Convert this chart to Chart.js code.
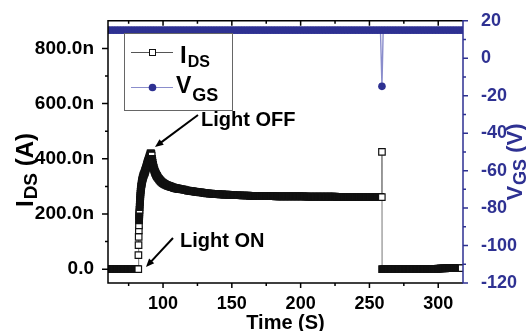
<!DOCTYPE html>
<html>
<head>
<meta charset="utf-8">
<script src="https://cdn.jsdelivr.net/npm/chart.js@4.4.0/dist/chart.umd.min.js"></script>
<style>
  html, body { margin: 0; padding: 0; background: #fff; }
  #wrap { width: 526px; height: 331px; }
</style>
</head>
<body>
<div id="wrap"><canvas id="chart" width="526" height="331"></canvas></div>
<script>
// I_DS in nA, before the light is switched on
const darkTime = [60, 61, 62, 63, 64, 65, 66, 67, 68, 69, 70, 71, 72, 73, 74, 75, 76, 77, 78, 79, 80, 81];
const darkIds = [0, 0, 0, 0, 0, 0, 0, 0, 0, 0, 0, 0, 0, 0, 0, 0, 0, 0, 0, 0, 0, 0];

// rise while the light is on
const riseTime = [82, 82.1, 82.2, 82.3, 82.4, 82.5, 82.6, 82.65, 82.7, 82.75,
  82.8, 82.9, 83, 83.1, 83.2, 83.3, 83.4, 83.5, 83.6, 83.7,
  83.8, 83.95, 84.1, 84.25, 84.4, 84.55, 84.7, 84.85, 85, 85.2,
  85.4, 85.65, 85.9, 86.2, 86.5, 86.75, 87, 87.25, 87.5, 87.75,
  88, 88.25, 88.5, 88.75, 89, 89.25, 89.5, 89.75, 90, 90.25,
  90.5, 90.75, 91, 91.25, 91.5];
const riseIds = [0, 51, 87, 117, 141, 159, 177, 185, 192, 199,
  206, 215, 225, 234, 243, 251, 259, 266, 273, 280,
  286, 292, 298, 303, 308, 313, 317, 321, 325, 329,
  333, 337, 341, 345, 348, 352, 356, 360, 364, 368,
  372, 377, 381, 385, 389, 393, 396, 400, 404, 408,
  412, 416, 420, 420, 418];

// fast decay right after the light is switched off
const fallTime = [91.75, 92, 92.25, 92.5, 92.75, 93, 93.25, 93.5, 93.75, 94,
  94.25, 94.5, 94.75, 95, 95.25, 95.5, 95.75, 96, 96.5, 97,
  97.5, 98, 98.5, 99, 99.5, 100, 100.5, 101, 101.5, 102,
  102.5, 103, 103.5, 104, 104.5, 105, 105.5, 106, 106.5, 107,
  107.5, 108, 108.5, 109, 109.5, 110, 110.5, 111, 111.5];
const fallIds = [412, 400, 392, 385, 378, 372, 367, 362, 358, 354,
  351, 348, 345, 343, 340, 338, 336, 334, 330, 327,
  324, 321, 318, 316, 314, 312, 310, 309, 307, 306,
  305, 304, 303, 302, 301, 300, 299, 298, 297, 297,
  296, 295, 294, 294, 293, 293, 292, 292, 291];

// slow decay towards the plateau
const decayTime = [112, 113, 114, 115, 116, 117, 118, 119, 120, 121,
  122, 123, 124, 125, 126, 127, 128, 129, 130, 131,
  132, 133, 134, 135, 136, 137, 138, 139, 140, 141,
  142, 143, 144, 145, 146, 147, 148, 149, 150, 151,
  152, 153, 154, 155, 156, 157, 158, 159, 160, 161,
  162, 163, 164, 165, 166, 167, 168, 169, 170, 171,
  172, 173, 174, 175, 176, 177, 178, 179, 180, 181,
  182, 183, 184, 185, 186, 187, 188, 189, 190, 191,
  192, 193, 194, 195, 196, 197, 198, 199, 200, 201,
  202, 203, 204, 205, 206, 207, 208, 209, 210, 211,
  212, 213, 214, 215, 216, 217, 218, 219, 220, 221,
  222, 223, 224, 225, 226, 227, 228, 229, 230, 231,
  232, 233, 234, 235, 236, 237, 238, 239, 240, 241,
  242, 243, 244, 245, 246, 247, 248, 249, 250, 251,
  252, 253, 254, 255, 256, 257, 258];
const decayIds = [291, 290, 289, 288, 287, 286, 285, 284, 283, 283,
  282, 281, 280, 280, 279, 278, 278, 277, 276, 276,
  275, 275, 274, 274, 273, 273, 272, 272, 272, 271,
  271, 271, 270, 270, 270, 270, 269, 269, 269, 269,
  268, 268, 268, 268, 268, 267, 267, 267, 267, 267,
  267, 266, 266, 266, 266, 266, 266, 266, 266, 265,
  265, 265, 265, 265, 265, 265, 265, 265, 265, 265,
  264, 264, 264, 264, 264, 264, 264, 264, 264, 264,
  264, 264, 264, 264, 264, 264, 264, 264, 264, 264,
  264, 264, 263, 263, 263, 263, 263, 263, 263, 263,
  263, 263, 263, 263, 263, 263, 263, 263, 263, 263,
  263, 263, 263, 263, 262, 262, 262, 262, 262, 262,
  262, 262, 262, 262, 262, 262, 262, 262, 262, 262,
  262, 262, 262, 262, 262, 262, 262, 262, 262, 262,
  262, 262, 262, 262, 262, 262, 262];

// gate pulse and what follows it
const offTime = [259, 259.1, 259.2, 260, 261, 262, 263, 264, 265, 266, 267, 268, 269,
  270, 271, 272, 273, 274, 275, 276, 277, 278, 279,
  280, 281, 282, 283, 284, 285, 286, 287, 288, 289,
  290, 291, 292, 293, 294, 295, 296, 297, 298, 299,
  300, 301, 302, 303, 304, 305, 306, 307, 308, 309,
  310, 311, 312, 313, 314, 315, 316, 317];
const offIds = [261, 425, 0, 0, 0, 0, 0, 0, 0, 0, 0, 0, 0,
  0, 0, 0, 0, 0, 0, 0, 0, 0, 0,
  0, 0, 0, 0, 0, 0, 0, 0, 0, 0,
  0, 0, 0, 0, 0, 0, 0, 0, 0, 0,
  2, 2, 3, 3, 3, 3, 4, 4, 4, 4,
  4, 4, 4, 4, 4, 4, 4, 4];

// V_GS in volts
const vgsTime = [60, 62, 64, 66, 68, 70, 72, 74, 76, 78,
  80, 82, 84, 86, 88, 90, 92, 94, 96, 98,
  100, 102, 104, 106, 108, 110, 112, 114, 116, 118,
  120, 122, 124, 126, 128, 130, 132, 134, 136, 138,
  140, 142, 144, 146, 148, 150, 152, 154, 156, 158,
  160, 162, 164, 166, 168, 170, 172, 174, 176, 178,
  180, 182, 184, 186, 188, 190, 192, 194, 196, 198,
  200, 202, 204, 206, 208, 210, 212, 214, 216, 218,
  220, 222, 224, 226, 228, 230, 232, 234, 236, 238,
  240, 242, 244, 246, 248, 250, 252, 254, 256, 258,
  259.1,
  260, 262, 264, 266, 268, 270, 272, 274, 276, 278,
  280, 282, 284, 286, 288, 290, 292, 294, 296, 298,
  300, 302, 304, 306, 308, 310, 312, 314, 316, 318];
const vgsValue = [15, 15, 15, 15, 15, 15, 15, 15, 15, 15,
  15, 15, 15, 15, 15, 15, 15, 15, 15, 15,
  15, 15, 15, 15, 15, 15, 15, 15, 15, 15,
  15, 15, 15, 15, 15, 15, 15, 15, 15, 15,
  15, 15, 15, 15, 15, 15, 15, 15, 15, 15,
  15, 15, 15, 15, 15, 15, 15, 15, 15, 15,
  15, 15, 15, 15, 15, 15, 15, 15, 15, 15,
  15, 15, 15, 15, 15, 15, 15, 15, 15, 15,
  15, 15, 15, 15, 15, 15, 15, 15, 15, 15,
  15, 15, 15, 15, 15, 15, 15, 15, 15, 15,
  -15,
  15, 15, 15, 15, 15, 15, 15, 15, 15, 15,
  15, 15, 15, 15, 15, 15, 15, 15, 15, 15,
  15, 15, 15, 15, 15, 15, 15, 15, 15, 15];

// axis ticks
const timeTicks = [100, 150, 200, 250, 300];
const timeMinor = [75, 125, 175, 225, 275];
const idsTicks = [0, 200, 400, 600, 800];
const idsMinor = [100, 300, 500, 700];
const vgsTicks = [-120, -100, -80, -60, -40, -20, 0, 20];
const vgsMinor = [-110, -90, -70, -50, -30, -10, 10];

const BLUE = '#2e3192';
const FONT = '"Liberation Sans", Arial, sans-serif';

const idsTime = darkTime.concat(riseTime, fallTime, decayTime, offTime);
const idsValue = darkIds.concat(riseIds, fallIds, decayIds, offIds);

function toPoints(xs, ys) {
  return xs.map((x, i) => ({ x: x, y: ys[i] }));
}

// hollow squares that sit on top of one another merge into a solid black trace
function squareFill(c) {
  if (c.type !== 'data') return '#fff';
  const d = c.dataset.data, i = c.dataIndex;
  if (i >= d.length - 1) return '#fff';
  const sx = c.chart.scales.x, sy = c.chart.scales.y;
  const dx = sx.getPixelForValue(d[i + 1].x) - sx.getPixelForValue(d[i].x);
  const dy = sy.getPixelForValue(d[i + 1].y) - sy.getPixelForValue(d[i].y);
  return Math.hypot(dx, dy) < 2.6 ? '#111' : '#fff';
}

// text with a subscript, left aligned at (x, y) baseline
function subText(ctx, x, y, main, sub, rest, big, small, drop) {
  ctx.textAlign = 'left';
  ctx.textBaseline = 'alphabetic';
  ctx.font = 'bold ' + big + 'px ' + FONT;
  ctx.fillText(main, x, y);
  x += ctx.measureText(main).width + 1;
  ctx.font = 'bold ' + small + 'px ' + FONT;
  ctx.fillText(sub, x, y + drop);
  x += ctx.measureText(sub).width;
  if (rest) {
    ctx.font = 'bold ' + big + 'px ' + FONT;
    ctx.fillText(rest, x, y);
  }
}

function subWidth(ctx, main, sub, rest, big, small) {
  ctx.font = 'bold ' + big + 'px ' + FONT;
  let w = ctx.measureText(main).width + 1 + (rest ? ctx.measureText(rest).width : 0);
  ctx.font = 'bold ' + small + 'px ' + FONT;
  return w + ctx.measureText(sub).width;
}

function arrow(ctx, x1, y1, x2, y2) {
  const ang = Math.atan2(y2 - y1, x2 - x1);
  const len = 9;
  ctx.beginPath();
  ctx.moveTo(x1, y1);
  ctx.lineTo(x2 - Math.cos(ang) * 6, y2 - Math.sin(ang) * 6);
  ctx.lineWidth = 2;
  ctx.stroke();
  ctx.beginPath();
  ctx.moveTo(x2, y2);
  ctx.lineTo(x2 - len * Math.cos(ang - 0.4), y2 - len * Math.sin(ang - 0.4));
  ctx.lineTo(x2 - len * Math.cos(ang + 0.4), y2 - len * Math.sin(ang + 0.4));
  ctx.closePath();
  ctx.fill();
}

const decorations = {
  id: 'decorations',
  afterDraw(chart) {
    const ctx = chart.ctx;
    const a = chart.chartArea;
    const sx = chart.scales.x, sy = chart.scales.y, sv = chart.scales.y2;
    ctx.save();

    // tick marks
    ctx.strokeStyle = '#000';
    ctx.lineWidth = 1.5;
    ctx.beginPath();
    timeTicks.forEach(v => {
      const p = sx.getPixelForValue(v);
      ctx.moveTo(p, a.bottom); ctx.lineTo(p, a.bottom + 5);
      ctx.moveTo(p, a.top); ctx.lineTo(p, a.top + 5);
    });
    timeMinor.forEach(v => {
      const p = sx.getPixelForValue(v);
      ctx.moveTo(p, a.bottom); ctx.lineTo(p, a.bottom + 3);
      ctx.moveTo(p, a.top); ctx.lineTo(p, a.top + 3);
    });
    idsTicks.forEach(v => {
      const p = sy.getPixelForValue(v);
      ctx.moveTo(a.left, p); ctx.lineTo(a.left - 6, p);
    });
    idsMinor.forEach(v => {
      const p = sy.getPixelForValue(v);
      ctx.moveTo(a.left, p); ctx.lineTo(a.left - 3, p);
    });
    ctx.moveTo(a.right, a.top); ctx.lineTo(a.left, a.top);
    ctx.lineTo(a.left, a.bottom); ctx.lineTo(a.right, a.bottom);
    ctx.stroke();

    ctx.strokeStyle = BLUE;
    ctx.beginPath();
    vgsTicks.forEach(v => {
      const p = sv.getPixelForValue(v);
      ctx.moveTo(a.right, p); ctx.lineTo(a.right + 5, p);
    });
    vgsMinor.forEach(v => {
      const p = sv.getPixelForValue(v);
      ctx.moveTo(a.right, p); ctx.lineTo(a.right + 3, p);
    });
    ctx.moveTo(a.right, a.top - 0.75); ctx.lineTo(a.right, a.bottom + 0.75);
    ctx.stroke();

    // axis titles
    ctx.fillStyle = '#000';
    ctx.font = 'bold 20px ' + FONT;
    ctx.textAlign = 'center';
    ctx.textBaseline = 'alphabetic';
    ctx.fillText('Time (S)', (a.left + a.right) / 2, 329);

    let w = subWidth(ctx, 'I', 'DS', ' (A)', 24, 19);
    ctx.save();
    ctx.translate(33, 170);
    ctx.rotate(-Math.PI / 2);
    subText(ctx, -w / 2, 0, 'I', 'DS', ' (A)', 24, 19, 4);
    ctx.restore();

    ctx.fillStyle = BLUE;
    w = subWidth(ctx, 'V', 'GS', ' (V)', 22, 18);
    ctx.save();
    ctx.translate(522, 162);
    ctx.rotate(-Math.PI / 2);
    subText(ctx, -w / 2, 0, 'V', 'GS', ' (V)', 22, 18, 4);
    ctx.restore();

    // legend
    ctx.strokeStyle = '#666';
    ctx.lineWidth = 1;
    ctx.strokeRect(124.5, 33.5, 108, 77);
    ctx.strokeStyle = '#555';
    ctx.beginPath();
    ctx.moveTo(131, 52.5); ctx.lineTo(173, 52.5);
    ctx.stroke();
    ctx.fillStyle = '#fff';
    ctx.fillRect(149.5, 49.5, 6, 6);
    ctx.strokeStyle = '#111';
    ctx.strokeRect(149.5, 49.5, 6, 6);
    ctx.strokeStyle = '#8a8dcc';
    ctx.beginPath();
    ctx.moveTo(131, 87.5); ctx.lineTo(173, 87.5);
    ctx.stroke();
    ctx.fillStyle = BLUE;
    ctx.beginPath();
    ctx.arc(152.5, 87.5, 3.8, 0, Math.PI * 2);
    ctx.fill();
    ctx.fillStyle = '#000';
    subText(ctx, 180, 63, 'I', 'DS', '', 24, 16, 4);
    subText(ctx, 176, 93, 'V', 'GS', '', 23, 18, 8);

    // annotations
    ctx.fillStyle = '#000';
    ctx.strokeStyle = '#000';
    ctx.font = 'bold 20px ' + FONT;
    ctx.textAlign = 'left';
    ctx.fillText('Light OFF', 201, 126);
    ctx.fillText('Light ON', 180, 247);
    arrow(ctx, 198, 115, 155, 147);
    arrow(ctx, 173, 238, 146, 267);

    ctx.restore();
  }
};

const ctx = document.getElementById('chart').getContext('2d');
new Chart(ctx, {
  type: 'line',
  data: {
    datasets: [
      {
        label: 'IDS',
        data: toPoints(idsTime, idsValue),
        yAxisID: 'y',
        borderColor: '#777',
        borderWidth: 1,
        pointStyle: 'rect',
        pointRadius: 4.6,
        pointBackgroundColor: squareFill,
        pointBorderColor: '#111',
        pointBorderWidth: 1.2,
        tension: 0
      },
      {
        label: 'VGS',
        data: toPoints(vgsTime, vgsValue),
        yAxisID: 'y2',
        borderColor: '#8a8dcc',
        borderWidth: 1.4,
        pointStyle: 'circle',
        pointRadius: 3.8,
        pointBackgroundColor: BLUE,
        pointBorderColor: BLUE,
        pointBorderWidth: 0,
        tension: 0
      }
    ]
  },
  options: {
    responsive: false,
    animation: false,
    events: [],
    layout: { padding: { top: 20, left: 0, right: 0, bottom: 0 } },
    plugins: { legend: { display: false }, tooltip: { enabled: false } },
    scales: {
      x: {
        type: 'linear',
        position: 'bottom',
        min: 60,
        max: 318,
        afterBuildTicks: s => { s.ticks = timeTicks.map(v => ({ value: v })); },
        afterFit: s => { s.height = 48; },
        grid: { display: false },
        border: { display: false },
        ticks: {
          color: '#000',
          padding: 2,
          maxRotation: 0,
          font: { family: FONT, size: 18, weight: 'bold' }
        }
      },
      y: {
        type: 'linear',
        position: 'left',
        min: -50,
        max: 900,
        afterBuildTicks: s => { s.ticks = idsTicks.map(v => ({ value: v })); },
        afterFit: s => { s.width = 108; },
        grid: { display: false },
        border: { display: false },
        ticks: {
          color: '#000',
          padding: 6,
          font: { family: FONT, size: 19, weight: 'bold' },
          callback: v => v === 0 ? '0.0' : v.toFixed(1) + 'n'
        }
      },
      y2: {
        type: 'linear',
        position: 'right',
        min: -120,
        max: 20,
        afterBuildTicks: s => { s.ticks = vgsTicks.map(v => ({ value: v })); },
        afterFit: s => { s.width = 63; },
        grid: { display: false },
        border: { display: false },
        ticks: {
          color: BLUE,
          padding: 10,
          font: { family: FONT, size: 18, weight: 'bold' }
        }
      }
    }
  },
  plugins: [decorations]
});
</script>
</body>
</html>
